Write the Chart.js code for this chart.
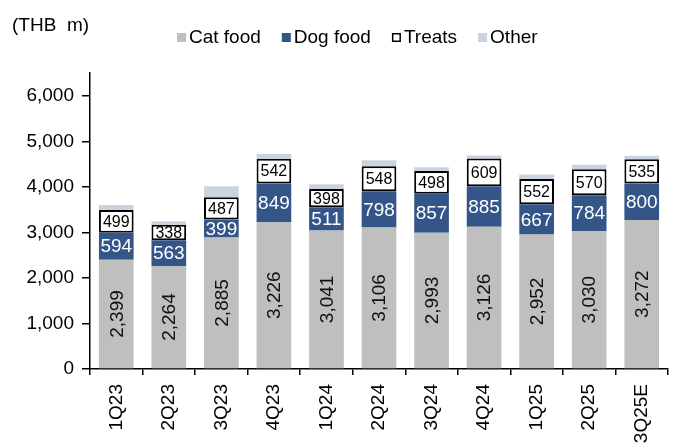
<!DOCTYPE html>
<html>
<head>
<meta charset="utf-8">
<script src="https://cdn.jsdelivr.net/npm/chart.js@4"></script>
<style>
  html, body { margin: 0; padding: 0; background: #fff; }
  #wrap { width: 675px; height: 448px; position: relative; }
</style>
</head>
<body>
<div id="wrap"><canvas id="myChart"></canvas></div>
<script>
const labels = ['1Q23', '2Q23', '3Q23', '4Q23', '1Q24', '2Q24', '3Q24', '4Q24', '1Q25', '2Q25', '3Q25E'];
const catFood = [2399, 2264, 2885, 3226, 3041, 3106, 2993, 3126, 2952, 3030, 3272];
const dogFood = [594, 563, 399, 849, 511, 798, 857, 885, 667, 784, 800];
const treats = [499, 338, 487, 542, 398, 548, 498, 609, 552, 570, 535];
const other = [110, 80, 240, 105, 105, 130, 80, 70, 100, 100, 75]; // no labels
const yTicks = [0, 1000, 2000, 3000, 4000, 5000, 6000];

const FONT = 'Arial, "Liberation Sans", sans-serif';
const CAT = '#BFBFBF', DOG = '#345587', OTHER = '#CCD3E0';

const fmt = v => v.toLocaleString('en-US');

// value labels inside the segments
const segLabels = {
    id: 'segLabels',
    afterDatasetsDraw(chart) {
        const ctx = chart.ctx;
        ctx.save();
        ctx.textAlign = 'center';
        ctx.textBaseline = 'middle';
        chart.data.datasets.forEach((ds, i) => {
            if (!ds.labelStyle) return;
            const meta = chart.getDatasetMeta(i);
            meta.data.forEach((bar, j) => {
                const yMid = (bar.y + bar.base) / 2;
                ctx.fillStyle = ds.labelStyle.color;
                ctx.font = ds.labelStyle.size + 'px ' + FONT;
                if (ds.labelStyle.rotate) {
                    ctx.save();
                    ctx.translate(bar.x, yMid);
                    ctx.rotate(-Math.PI / 2);
                    ctx.fillText(fmt(ds.data[j]), 0, 1);
                    ctx.restore();
                } else {
                    ctx.fillText(fmt(ds.data[j]), bar.x, yMid + 1);
                }
            });
        });
        ctx.restore();
    }
};

// unit text and legend drawn by hand so it sits where the original has it
const header = {
    id: 'header',
    afterDraw(chart) {
        const ctx = chart.ctx;
        ctx.save();
        ctx.font = '19px ' + FONT;
        ctx.fillStyle = '#000';
        ctx.textBaseline = 'middle';
        ctx.textAlign = 'left';
        ctx.fillText('(THB  m)', 12, 26);

        let x = 177;
        const y = 38;
        chart.data.datasets.forEach(ds => {
            if (ds.label === 'Treats') {
                ctx.fillStyle = '#fff';
                ctx.fillRect(x, y - 5, 9, 9);
                ctx.strokeStyle = '#000';
                ctx.lineWidth = 1.5;
                ctx.strokeRect(x + 0.75, y - 4.25, 7.5, 7.5);
            } else {
                ctx.fillStyle = ds.backgroundColor;
                ctx.fillRect(x, y - 5, 9, 9);
            }
            ctx.fillStyle = '#000';
            ctx.fillText(ds.label, x + 12, y);
            x += 12 + ctx.measureText(ds.label).width + 21;
        });
        ctx.restore();
    }
};

new Chart(document.getElementById('myChart').getContext('2d'), {
    type: 'bar',
    data: {
        labels: labels,
        datasets: [{
            label: 'Cat food',
            data: catFood,
            backgroundColor: CAT,
            labelStyle: { color: '#111', size: 19, rotate: true }
        }, {
            label: 'Dog food',
            data: dogFood,
            backgroundColor: DOG,
            labelStyle: { color: '#fff', size: 19 }
        }, {
            label: 'Treats',
            data: treats,
            backgroundColor: '#fff',
            borderColor: '#000',
            borderWidth: 2,
            borderSkipped: false,
            labelStyle: { color: '#000', size: 16 }
        }, {
            label: 'Other',
            data: other,
            backgroundColor: OTHER
        }]
    },
    options: {
        responsive: true,
        maintainAspectRatio: false,
        animation: false,
        datasets: { bar: { categoryPercentage: 1, barPercentage: 0.66 } },
        layout: { padding: { top: 73, right: 7, left: 0, bottom: 0 } },
        scales: {
            x: {
                stacked: true,
                afterFit: s => { s.height = 79; },
                border: { color: '#000', width: 1.5 },
                grid: { display: true, drawOnChartArea: false, drawTicks: true, tickLength: 6, color: '#000', lineWidth: 1.5 },
                ticks: {
                    color: '#000',
                    font: { family: FONT, size: 19 },
                    minRotation: 90,
                    maxRotation: 90,
                    padding: 9
                }
            },
            y: {
                stacked: true,
                min: 0,
                max: 6500,
                afterFit: s => { s.width = 90; },
                afterBuildTicks: s => { s.ticks = yTicks.map(v => ({ value: v })); },
                border: { color: '#000', width: 1.5 },
                grid: { display: true, drawOnChartArea: false, drawTicks: true, tickLength: 8, color: '#000', lineWidth: 1.5 },
                ticks: {
                    color: '#000',
                    font: { family: FONT, size: 19 },
                    padding: 8,
                    callback: v => fmt(v)
                }
            }
        },
        plugins: {
            legend: { display: false },
            tooltip: { enabled: false }
        }
    },
    plugins: [segLabels, header]
});
</script>
</body>
</html>
